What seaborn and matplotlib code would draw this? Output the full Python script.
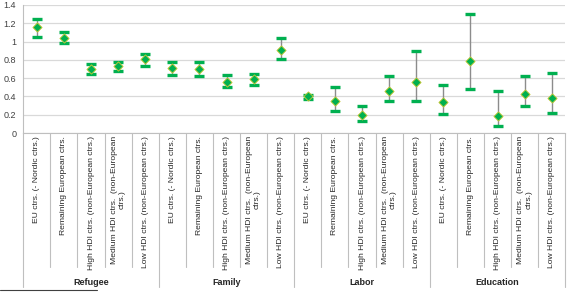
import numpy as np
import pandas as pd
import seaborn as sns

import matplotlib
matplotlib.use('Agg')

import matplotlib.pyplot as plt
from matplotlib.lines import Line2D

# Categories and groups
groups = ["Refugee", "Family", "Labor", "Education"]
regions = [
    "EU ctrs. (- Nordic ctrs.)",
    "Remaining European ctrs.",
    "High HDI ctrs. (non-European ctrs.)",
    "Medium HDI ctrs.  (non-European\nctrs.)",
    "Low HDI ctrs. (non-European ctrs.)",
]

# Estimates with lower / upper bounds
estimate = [1.16, 1.04, 0.70, 0.73, 0.81,
            0.71, 0.70, 0.56, 0.59, 0.91,
            0.40, 0.35, 0.20, 0.46, 0.56,
            0.34, 0.79, 0.19, 0.43, 0.38]
lower = [1.05, 0.98, 0.64, 0.68, 0.73,
         0.63, 0.62, 0.50, 0.53, 0.81,
         0.37, 0.24, 0.13, 0.35, 0.35,
         0.21, 0.48, 0.08, 0.30, 0.22]
upper = [1.25, 1.10, 0.75, 0.78, 0.86,
         0.78, 0.78, 0.63, 0.64, 1.04,
         0.42, 0.50, 0.29, 0.62, 0.90,
         0.53, 1.30, 0.46, 0.62, 0.66]

df = pd.DataFrame({
    "group": np.repeat(groups, len(regions)),
    "region": regions * len(groups),
    "estimate": estimate,
    "lower": lower,
    "upper": upper,
})
df["pos"] = np.arange(len(df))

sns.set_style("white")
plt.rcParams['font.family'] = ['Liberation Sans', 'DejaVu Sans']

fig = plt.figure(figsize=(5.67, 2.93), dpi=100)
ax = fig.add_axes([0.041, 0.546, 0.956, 0.437])

green = "#00b050"
grid_c = "#d9d9d9"
line_c = "#bfbfbf"

# Error bars: gray stems, green caps
_, caps, _ = ax.errorbar(df["pos"], df["estimate"],
                         yerr=[df["estimate"] - df["lower"], df["upper"] - df["estimate"]],
                         fmt="none", ecolor="#8c8c8c", elinewidth=1.0,
                         capsize=3.3, capthick=2.4, zorder=3)
for c in caps:
    c.set_markeredgecolor(green)
    c.set_markerfacecolor(green)

sns.scatterplot(data=df, x="pos", y="estimate", marker="D", s=22,
                color=green, edgecolor="#c8c832", linewidth=0.6, zorder=4, ax=ax)

ax.set_xlim(-0.5, len(df) - 0.5)
ax.set_ylim(0, 1.4)
ax.set_yticks(np.arange(0, 1.41, 0.2))
ax.set_yticklabels(["0", "0.2", "0.4", "0.6", "0.8", "1", "1.2", "1.4"], fontsize=6.5)
ax.yaxis.grid(True, color=grid_c, linewidth=0.9)
ax.set_axisbelow(True)
ax.tick_params(axis="y", length=3, color=line_c, pad=2, labelcolor="#404040")
ax.tick_params(axis="x", length=0, pad=2)
ax.set_xticks(df["pos"])
ax.set_xticklabels(df["region"], rotation=90, va="top", ha="center",
                   fontsize=6.1, multialignment="center", color="#262626")
ax.set_xlabel("")
ax.set_ylabel("")
for s in ["top", "right"]:
    ax.spines[s].set_visible(False)
ax.spines["left"].set_color(line_c)
ax.spines["bottom"].set_color(line_c)

# Category separators below the axis
trans = ax.get_xaxis_transform()
n = len(regions)
for i in range(len(df) + 1):
    if i % n == 0:
        ax.plot([i - 0.5, i - 0.5], [0, -1.2], color=line_c, lw=0.8,
                transform=trans, clip_on=False)
    else:
        ax.plot([i - 0.5, i - 0.5], [0, -1.05], color=line_c, lw=0.8,
                transform=trans, clip_on=False)

for g, name in enumerate(groups):
    ax.text(g * n + (n - 1) / 2, -1.165, name, transform=trans, ha="center",
            va="center", fontsize=6.5, fontweight="bold", color="#262626")

# footnote rule
fig.add_artist(Line2D([0.0, 0.171], [0.01, 0.01], color="#404040", lw=0.8))

fig.savefig("out.png", dpi=100)
